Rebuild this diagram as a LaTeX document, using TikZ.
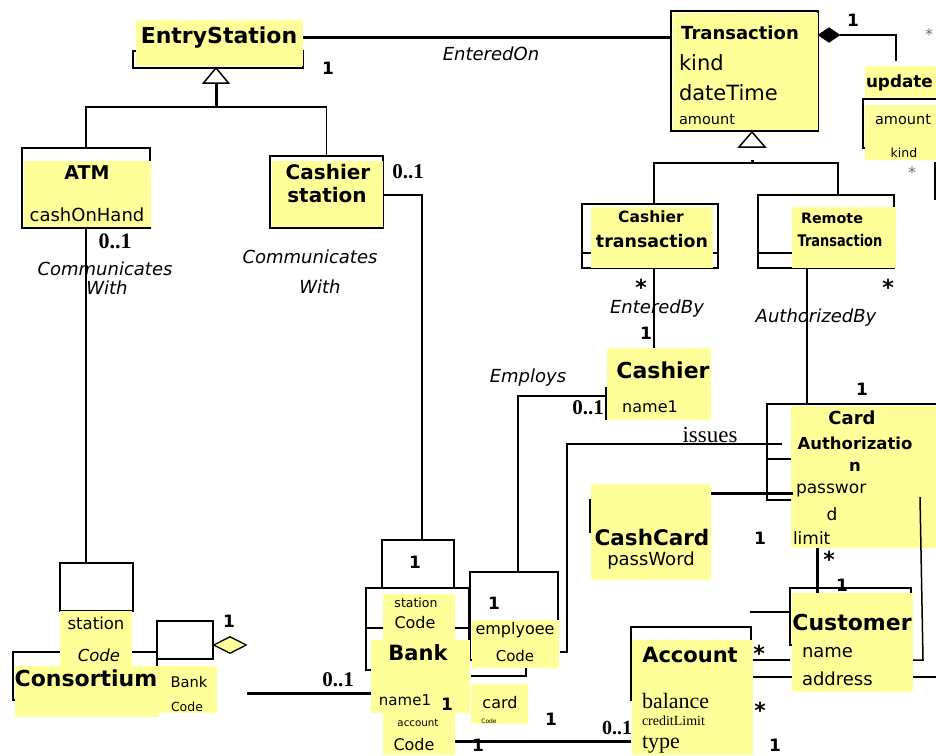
\documentclass[tikz,border=0pt]{standalone}
\usepackage{fontspec}
\setmainfont{DejaVu Sans}
\newfontfamily\tms{Liberation Serif}
\usetikzlibrary{calc,shapes.geometric}
\definecolor{yel}{RGB}{255,255,153}
\definecolor{gry}{RGB}{110,110,110}
\newcommand\fsz[1]{\fontsize{#1}{#1}\selectfont}
\newcommand\ybx[5]{\pgfmathsetmacro\myW{#4-#2}\pgfmathsetmacro\myH{#5-#3}\node[ybox,minimum width=\myW pt,minimum height=\myH pt] (#1) at (#2,#3) {};}
\newcommand\obx[5]{\pgfmathsetmacro\myW{#4-#2}\pgfmathsetmacro\myH{#5-#3}\node[obox,minimum width=\myW pt,minimum height=\myH pt] (#1) at (#2,#3) {};}
\begin{document}
\begin{tikzpicture}[x=1pt,y=-1pt,
  ybox/.style={fill=yel,draw=none,inner sep=0pt,outer sep=0pt,anchor=north west},
  obox/.style={draw=black,line width=1.5pt,fill=none,inner sep=0pt,outer sep=0pt,anchor=north west},
  ln/.style={line width=1.5pt},
  tk/.style={line width=3pt},
  txt/.style={inner sep=0pt,outer sep=0pt},
  mult/.style={txt,font=\bfseries\fsz{17}},
  star/.style={txt,font=\bfseries\fsz{22}},
  gstar/.style={txt,text=gry,font=\fsz{16}},
  asc/.style={txt,font=\itshape\fsz{18}},
  tm/.style={txt,font=\tms\bfseries\fsz{21}}]
\useasboundingbox (0,0) rectangle (936,755);
\clip (0,0) rectangle (936,755);

% ---------- outline boxes ----------
\obx{es_o}{133}{51}{303}{68}
\obx{atm_o}{22}{148}{150}{228}
\obx{cs_o}{270}{156}{383}{228}
\obx{tr_o}{671}{11}{818}{131}
\obx{up_o}{863}{99}{945}{148}
\obx{ct_o}{582}{204}{718}{268}
\obx{rt_o}{758}{195}{894}{268}
\obx{ca_o}{767}{404}{945}{500}
\obx{cu_o}{790}{588}{911}{645}
\obx{ac_o}{631}{627}{751}{700}
\obx{bk1_o}{382}{540}{454}{588}
\obx{bk_o}{366}{588}{469}{670}
\obx{emp_o}{470}{572}{558}{660}
\obx{cb_o}{60}{563}{133}{611}
\obx{cons_o}{13}{652}{157}{700}
\obx{bc_o}{157}{621}{213}{659}

% compartments
\draw[ln] ($(ct_o.south west)+(0,-15)$) -- ($(ct_o.south east)+(0,-15)$);
\draw[ln] ($(rt_o.south west)+(0,-15)$) -- ($(rt_o.south east)+(0,-15)$);
\draw[ln] ($(ca_o.north west)+(0,55)$) -- ++(24,0);
\draw[ln] ($(bk_o.north west)+(0,40)$) -- ($(bk_o.north east)+(0,40)$);
\draw[ln] (bc_o.south west) -- ++(0,41);

% ---------- connectors ----------
\draw[tk] ($(es_o.north east)+(0,-14)$) -- ($(tr_o.north west)+(0,26)$);
% generalization EntryStation
\draw[ln,fill=white] ($(es_o.south)+(-2,0)$) -- ++(-12.5,15) -- ++(25,0) -- cycle;
\draw[tk] ($(es_o.south)+(-2,15)$) -- ++(0,24);
\draw[ln] (atm_o.north) -- ++(0,-41) -| (cs_o.north);
% ATM - Consortium
\draw[ln] (atm_o.south) -- (atm_o.south |- cb_o.north);
% Cashier station - Bank
\draw[ln] ($(cs_o.north east)+(0,39)$) -| ($(bk1_o.north)+(4,0)$);
% composition Transaction - update
\node[diamond,fill=black,draw=black,inner sep=0pt,minimum width=22pt,minimum height=15pt] (cd) at (829,35) {};
\draw[ln] (cd.east) -- ++(56,0) -- ++(0,26);
% generalization Transaction
\coordinate (tA) at ($(tr_o.south)+(7.5,1)$);
\draw[ln,fill=white] (tA) -- ++(-13,15) -- ++(26,0) -- cycle;
\draw[tk] ($(tA)+(0,28)$) -- ++(0,4);
\draw[ln] ($(ct_o.north)+(4,0)$) -- ++(0,-41) -| ($(rt_o.north)+(12,0)$);
% EnteredBy
\draw[ln] ($(ct_o.south)+(4,0)$) -- ++(0,80);
% AuthorizedBy
\draw[ln] ($(rt_o.south)+(-19,0)$) -- ++(0,136);
% Employs
\draw[ln] ($(emp_o.north)+(4,0)$) |- (606,396) coordinate (casL);
\draw[ln] ($(casL)+(0,-9)$) -- ++(0,33);
% issues
\draw[ln] (560,652) coordinate (empR) -- ++(7,0) |- ($(ca_o.west)+(15,-8)$);
% CashCard - CardAuthorization
\draw[tk] (711,493) coordinate (ccR) -- (793,493);
\draw[ln] (590,499) -- ++(0,34);
% Customer connectors
\draw[ln] ($(cu_o.north west)+(-40,24)$) -- ($(cu_o.north west)+(0,24)$);
\draw[ln] (753,660) -- ($(cu_o.north west)+(0,72)$);
\coordinate (rEdge) at (940,677);
\draw[ln] (753,677) -- (rEdge);
% Account - Bank
\draw[tk] (455,741) -- ($(ac_o.north west)+(0,114)$);
% Consortium - Bank
\coordinate (consR) at (247,693);
\draw[tk] (consR) -- (371,693);
% employee bottom
\draw[ln] (471,676) -| (526,666);

% ---------- yellow fills ----------
\ybx{es_y}{136}{20}{303}{66}
\ybx{atm_y}{24}{161}{151}{227}
\ybx{cs_y}{271.5}{161}{383}{227}
\ybx{tr_y}{672.5}{12.5}{818}{130}
\ybx{up1_y}{865}{66}{936}{98}
\ybx{up2_y}{865}{105}{936}{160}
\ybx{ct_y}{591}{207}{713}{268}
\ybx{rt_y}{792}{207}{896}{268}
\ybx{cas_y}{607}{348}{711}{420}
\ybx{ca_y}{791}{405.5}{936}{548}
\ybx{cc_y}{591}{484}{711}{580}
\ybx{cu_y}{792}{593}{913}{692}
\ybx{ac_y}{632}{640}{753}{755}
\ybx{sc2_y}{383}{594}{455}{640}
\ybx{bank_y}{371}{640}{470}{713}
\ybx{acc_y}{383}{713}{455}{755}
\ybx{emp_y}{472}{620}{559}{668}
\ybx{card_y}{471}{684}{528}{724}
\ybx{sc1_y}{60}{611}{132}{666}
\ybx{cons_y}{15}{666}{159}{717}
\ybx{bc_y}{159}{666}{217}{713}

% on top of yellow
\draw[tk] (ca_y.south west |- 0,548) ++(26,0) -- ($(cu_y.north west)+(25,0)$);
\draw[tk] (ccR) -- ($(ca_y.north west)+(2,87.5)$);
\draw[ln] ($(ca_y.south east)+(-16,-51)$) -- ($(cu_y.north east)+(10,67)$) -- ($(cu_y.north east)+(0,67)$);
\draw[ln] (935,162) -- (935,200);
\node[diamond,fill=yel,draw=black,line width=1.3pt,inner sep=0pt,minimum width=33pt,minimum height=17pt] (hd) at (230,645) {};

% ---------- texts ----------
\node[txt,font=\bfseries\fsz{22}] (t1) at (219,38) {EntryStation};
\node[mult] (t2) at (328,68) {1};
\node[asc] (t3) at (491,54) {EnteredOn};
\node[txt,font=\bfseries\fsz{19}] (t4) at (87,173) {ATM};
\node[txt,font=\fsz{18}] (t5) at (87,215) {cashOnHand};
\node[tm,font=\tms\bfseries\fsz{22}] (t6) at (115,241) {0..1};
\node[asc] (t7) at (105,269) {Communicates};
\node[asc] (t8) at (107,288) {With};
\node[txt,font=\bfseries\fsz{20}] (t9) at (328,172) {Cashier};
\node[txt,font=\bfseries\fsz{20}] (t10) at (327,195) {station};
\node[tm] (t11) at (408,172) {0..1};
\node[asc] (t12) at (310,257) {Communicates};
\node[asc] (t13) at (320,287) {With};
\node[txt,font=\bfseries\fsz{18}] (t14) at (740,33) {Transaction};
\node[txt,font=\fsz{21},anchor=west] (t15) at (679,63) {kind};
\node[txt,font=\fsz{21},anchor=west] (t16) at (679,93) {dateTime};
\node[txt,font=\fsz{14.5},anchor=west] (t17) at (679,120) {amount};
\node[mult] (t18) at (853,20) {1};
\node[gstar] (t19) at (929,35) {*};
\node[gstar] (t20) at (912,173) {*};
\node[txt,font=\bfseries\fsz{16.8},anchor=west] (t21) at (866,83) {update};
\node[txt,font=\fsz{14.5}] (t22) at (903,120) {amount};
\node[txt,font=\fsz{12.5}] (t23) at (904,153) {kind};
\node[txt,font=\bfseries\fsz{15.5}] (t24) at (651,217) {Cashier};
\node[txt,font=\bfseries\fsz{17.4}] (t25) at (652,241) {transaction};
\node[txt,font=\bfseries\fsz{14.3}] (t26) at (832,218) {Remote};
\node[txt,font=\bfseries\fsz{16},xscale=0.81] (t27) at (840,241) {Transaction};
\node[star] (t28) at (641,287) {*};
\node[star] (t29) at (888,287) {*};
\node[asc] (t30) at (657,309) {EnteredBy};
\node[mult] (t31) at (646,333) {1};
\node[asc] (t32) at (816,318) {AuthorizedBy};
\node[asc] (t33) at (528,378) {Employs};
\node[txt,font=\bfseries\fsz{22}] (t34) at (663,370) {Cashier};
\node[txt,font=\fsz{16}] (t35) at (650,407) {name1};
\node[tm] (t36) at (588,408) {0..1};
\node[txt,font=\tms\fsz{23}] (t37) at (710,435) {issues};
\node[mult] (t38) at (862,389) {1};
\node[txt,font=\bfseries\fsz{18}] (t39) at (852,418) {Card};
\node[txt,font=\bfseries\fsz{16.5}] (t40) at (855,443) {Authorizatio};
\node[txt,font=\bfseries\fsz{16.5}] (t41) at (855,467) {n};
\node[txt,font=\fsz{17},anchor=west] (t42) at (796,490) {passwor};
\node[txt,font=\fsz{17}] (t43) at (832,514) {d};
\node[txt,font=\fsz{17},anchor=west] (t44) at (793,538) {limit};
\node[txt,font=\bfseries\fsz{21.5}] (t45) at (652,537) {CashCard};
\node[txt,font=\fsz{18}] (t46) at (651,561) {passWord};
\node[mult] (t47) at (760,538) {1};
\node[star] (t48) at (829,559) {*};
\node[mult] (t49) at (842,585) {1};
\node[txt,font=\bfseries\fsz{22}] (t50) at (852,622) {Customer};
\node[txt,font=\fsz{18},anchor=west] (t51) at (802,653) {name};
\node[txt,font=\fsz{18},anchor=west] (t52) at (802,679) {address};
\node[txt,font=\bfseries\fsz{21}] (t53) at (690,655) {Account};
\node[txt,font=\tms\fsz{22},anchor=west] (t54) at (642,701) {balance};
\node[txt,font=\tms\fsz{14},anchor=west] (t55) at (642,721) {creditLimit};
\node[txt,font=\tms\fsz{22},anchor=west] (t56) at (642,745) {type};
\node[star] (t57) at (759,653) {*};
\node[star] (t58) at (760,710) {*};
\node[mult] (t59) at (775,745) {1};
\node[tm,font=\tms\bfseries\fsz{20}] (t60) at (617,728) {0..1};
\node[mult] (t61) at (551,719) {1};
\node[mult] (t62) at (478,745) {1};
\node[mult] (t63) at (415,562) {1};
\node[txt,font=\fsz{12.5}] (t64) at (416,603) {station};
\node[txt,font=\fsz{16}] (t65) at (415,623) {Code};
\node[txt,font=\bfseries\fsz{21}] (t66) at (418,653) {Bank};
\node[txt,font=\fsz{15}] (t67) at (405,700) {name1};
\node[mult] (t68) at (447,704) {1};
\node[txt,font=\fsz{10.3}] (t69) at (418,723) {account};
\node[txt,font=\fsz{16}] (t70) at (414,745) {Code};
\node[mult] (t71) at (494,603) {1};
\node[txt,font=\fsz{16}] (t72) at (515,630) {emplyoee};
\node[txt,font=\fsz{15}] (t73) at (515,656) {Code};
\node[txt,font=\fsz{16}] (t74) at (500,703) {card};
\node[txt,font=\fsz{6}] (t75) at (489,721) {Code};
\node[tm] (t76) at (338,680) {0..1};
\node[txt,font=\fsz{16.5}] (t77) at (96,623) {station};
\node[txt,font=\itshape\fsz{16.5}] (t78) at (99,655) {Code};
\node[txt,font=\bfseries\fsz{22}] (t79) at (86,678) {Consortium};
\node[txt,font=\fsz{14.7}] (t80) at (189,682) {Bank};
\node[txt,font=\fsz{12.5}] (t81) at (187,707) {Code};
\node[mult] (t82) at (229,621) {1};
\end{tikzpicture}
\end{document}
